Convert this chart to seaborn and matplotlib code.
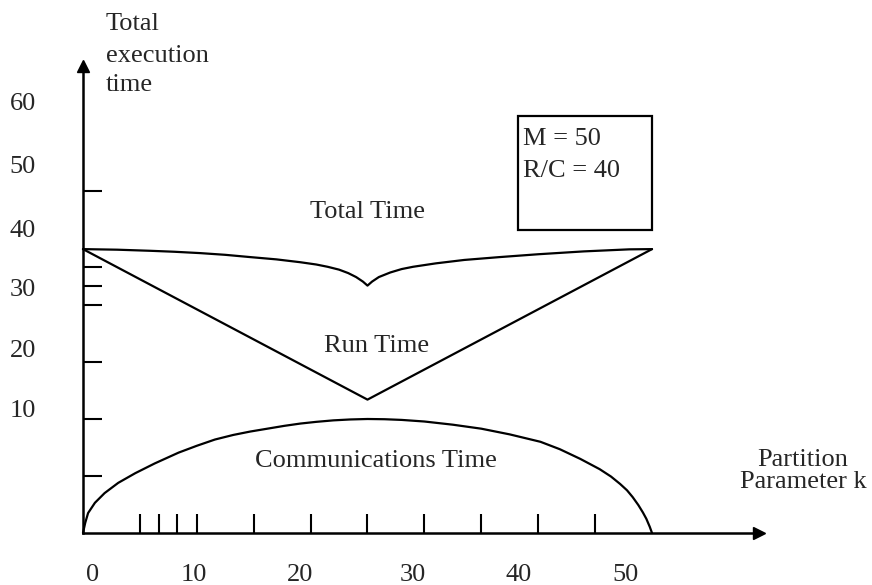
import matplotlib
matplotlib.use("Agg")
import matplotlib.pyplot as plt
from matplotlib.patches import Rectangle
import seaborn as sns

# curve values (k = partition parameter)
run_k = [0, 25, 50]
run_time = [24.9, 11.7, 24.9]

total_k = [0, 3, 6, 8, 10.3, 12.5, 14.7, 17, 19.1, 20.5, 21.5, 22.5, 23.3, 24, 24.6, 25,
           25.4, 26, 27, 28, 29, 31, 33.5, 36.6, 40, 44, 48, 50]
total_time = [24.9, 24.85, 24.75, 24.67, 24.55, 24.4, 24.2, 24.0, 23.75, 23.55, 23.35, 23.1,
              22.8, 22.45, 22.05, 21.7, 22.05, 22.45, 22.85, 23.15, 23.35, 23.65, 23.95,
              24.2, 24.45, 24.7, 24.88, 24.9]

comm_k = [0, 0.2, 0.45, 1.05, 1.9, 3.1, 4.6, 6.3, 8.4, 10, 11.6, 13.2, 14.7, 16.2, 17.7,
          19.1, 20.5, 22, 23.5, 25, 26.5, 28, 30, 32.5, 35, 37.5, 40.2, 41.9, 43.7, 45.4,
          46.4, 47.2, 47.8, 48.3, 48.8, 49.2, 49.5, 49.8, 50]
comm_time = [0, 0.9, 1.75, 2.65, 3.5, 4.4, 5.25, 6.1, 7.05, 7.65, 8.2, 8.6, 8.9, 9.15, 9.4,
             9.6, 9.75, 9.88, 9.96, 10.0, 9.98, 9.92, 9.78, 9.5, 9.15, 8.65, 8.0, 7.35,
             6.5, 5.6, 4.95, 4.3, 3.75, 3.15, 2.45, 1.8, 1.25, 0.55, 0]

x_ticks = [5, 6.7, 8.3, 10, 15, 20, 25, 30, 35, 40, 45]
y_ticks = [5, 10, 15, 20, 21.7, 23.3, 30]

x_label_text = ["0", "10", "20", "30", "40", "50"]
y_label_text = ["60", "50", "40", "30", "20", "10"]
y_title_lines = ["Total", "execution", "time"]
param_lines = ["M = 50", "R/C = 40"]

# where the hand-placed labels sit (data units)
x_label_pos = [0.83, 9.7, 19.1, 29.0, 38.3, 47.7]
y_label_pos = [37.1, 31.6, 26.0, 20.8, 15.4, 10.2]

sns.set_theme(style="white")
plt.rcParams["font.family"] = ["Liberation Serif", "DejaVu Serif"]
FS = 19

fig = plt.figure(figsize=(8.72, 5.85), dpi=100)
ax = fig.add_axes([0, 0, 1, 1])
ax.set_xlim(-7.29, 69.33)
ax.set_ylim(-4.56, 46.75)

sns.lineplot(x=total_k, y=total_time, color="black", lw=1.6, ax=ax, sort=False)
sns.lineplot(x=run_k, y=run_time, color="black", lw=1.6, ax=ax, sort=False)
sns.lineplot(x=comm_k, y=comm_time, color="black", lw=1.6, ax=ax, sort=False)

# axes drawn as arrows through the origin
for side in ["top", "right"]:
    ax.spines[side].set_visible(False)
ax.spines["left"].set_position(("data", 0))
ax.spines["bottom"].set_position(("data", 0))
ax.spines["left"].set_bounds(0, 41.0)
ax.spines["bottom"].set_bounds(0, 59.4)
for side in ["left", "bottom"]:
    ax.spines[side].set_color("black")
    ax.spines[side].set_linewidth(1.8)
ax.plot(59.4, 0, ">", color="black", ms=8, clip_on=False)
ax.plot(0, 41.0, "^", color="black", ms=8, clip_on=False)

ax.set_xticks(x_ticks)
ax.set_yticks(y_ticks)
ax.tick_params(bottom=True, left=True, direction="in", length=13.5, width=1.5,
               color="black", labelbottom=False, labelleft=False)
ax.grid(False)
ax.set_xlabel("")
ax.set_ylabel("")

for txt, x in zip(x_label_text, x_label_pos):
    ax.text(x, -4.21, txt, fontsize=FS, ha="center", va="baseline")
for txt, y in zip(y_label_text, y_label_pos):
    ax.text(-5.27, y, txt, fontsize=FS, ha="center", va="baseline")

for txt, y in zip(y_title_lines, [44.12, 41.32, 38.77]):
    ax.text(2.02, y, txt, fontsize=FS, ha="left", va="baseline")

ax.text(63.27, 5.88, "Partition", fontsize=FS, ha="center", va="baseline")
ax.text(63.27, 3.95, "Parameter k", fontsize=FS, ha="center", va="baseline")

ax.text(19.95, 27.63, "Total Time", fontsize=FS, ha="left", va="baseline")
ax.text(21.18, 15.88, "Run Time", fontsize=FS, ha="left", va="baseline")
ax.text(15.11, 5.79, "Communications Time", fontsize=FS, ha="left", va="baseline")

ax.add_patch(Rectangle((38.22, 26.58), 11.78, 10.0, fill=False, ec="black", lw=1.6))
for txt, y in zip(param_lines, [34.04, 31.23]):
    ax.text(38.66, y, txt, fontsize=FS, ha="left", va="baseline")

fig.savefig("out.png", dpi=100)
